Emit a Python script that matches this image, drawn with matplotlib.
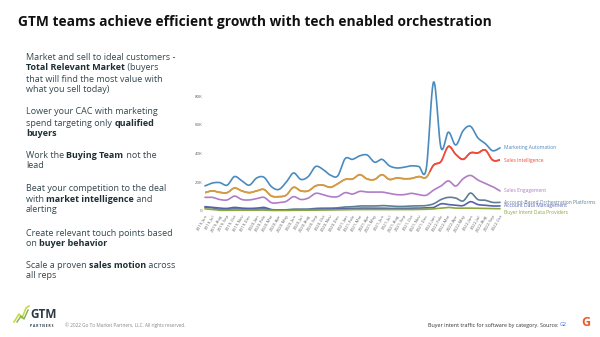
import numpy as np
import matplotlib
matplotlib.use("agg")
from matplotlib import pyplot as plt
from matplotlib.lines import Line2D
from matplotlib.collections import LineCollection

plt.rcParams['font.family'] = ['Open Sans', 'DejaVu Sans']

# monthly buyer intent traffic, 2019-Jun .. 2022-Oct (thousands)
month_names = ['Jan', 'Feb', 'Mar', 'Apr', 'May', 'Jun', 'Jul', 'Aug', 'Sep', 'Oct', 'Nov', 'Dec']
dates = ['2019-' + m for m in month_names[5:]] + ['2020-' + m for m in month_names] + \
        ['2021-' + m for m in month_names] + ['2022-' + m for m in month_names[:10]]

marketing_automation = [17.5, 19.5, 19.8, 18, 24, 21, 18, 23, 23.5, 17, 15, 20, 26.5, 22, 24, 31, 29, 25,
                        24.5, 36.5, 36, 38.5, 39, 34, 36, 31.5, 30, 30.5, 31.5, 31, 29.5, 90, 44, 55, 46,
                        56, 59, 51, 47, 42, 44]
sales_intelligence = [12.8, 14, 13, 12.8, 16, 14, 12.8, 14, 15, 10.5, 10, 11, 16.5, 14, 14, 17.5, 18, 16.5,
                      19, 22, 22.3, 25.3, 22.3, 22, 25.3, 22, 23, 22.5, 22.7, 24, 23.5, 32, 34.5, 45, 39.5,
                      36, 40.5, 40.5, 42.5, 35.5, 35.5]
sales_engagement = [9.5, 9.5, 8, 7.7, 10.4, 8, 7.7, 8.6, 9.5, 5.8, 5.8, 6.7, 10, 8, 9, 12.3, 11.4, 10, 10,
                    12.8, 11.8, 13.7, 13.2, 13.2, 13.2, 12.3, 11.4, 11.4, 12.3, 11.4, 11, 14.6, 17.4, 21,
                    17.4, 22.5, 24.8, 21.6, 19.3, 17, 14]
abo_platforms = [2.5, 2.2, 1.0, 1.0, 1.5, 1.2, 1.0, 1.2, 1.5, 0.8, 0.6, 0.8, 1.2, 1.2, 1.3, 1.8, 2.0, 2.0,
                 2.2, 2.8, 3.0, 3.5, 3.5, 3.5, 3.8, 3.5, 3.2, 3.2, 3.5, 3.5, 3.8, 5.0, 8.0, 9.5, 9.0, 7.0,
                 12.5, 8.0, 7.5, 6.0, 6.0]
account_data = [3.0, 2.5, 2.0, 1.8, 2.5, 2.0, 1.8, 2.0, 2.5, 1.0, 0.8, 0.8, 1.0, 1.0, 1.0, 1.2, 1.2, 1.3,
                1.5, 1.6, 1.8, 2.0, 2.0, 2.0, 2.0, 1.8, 1.8, 1.8, 2.0, 2.0, 2.2, 2.5, 5.0, 4.5, 4.0, 3.8,
                6.5, 4.5, 4.0, 3.5, 3.5]
intent_providers = [1.5, 1.0, 0.5, 0.5, 0.6, 0.6, 0.5, 0.6, 0.6, 0.4, 0.4, 0.4, 0.5, 0.5, 0.6, 0.6, 0.7,
                    0.7, 0.8, 0.9, 1.0, 1.0, 1.0, 1.0, 1.0, 1.0, 1.0, 1.0, 1.0, 1.1, 1.2, 1.5, 2.0, 2.5,
                    2.0, 2.0, 2.0, 1.8, 1.8, 1.6, 1.6]

series = [
    ('Marketing Automation', marketing_automation, '#4a8bbf', 0),
    ('Sales Intelligence', sales_intelligence, '#ef4b3c', 0),
    ('Sales Engagement', sales_engagement, '#b07cc6', 0),
    ('Account-Based Orchestration Platforms', abo_platforms, '#5c7f96', 0),
    ('Account Data Management', account_data, '#5561ad', 0),
    ('Buyer Intent Data Providers', intent_providers, '#8aa83e', -3),
]

bullets = [
    [[('Market and sell to ideal customers -', False)],
     [('Total Relevant Market', True), (' (buyers', False)],
     [('that will find the most value with', False)],
     [('what you sell today)', False)]],
    [[('Lower your CAC with marketing', False)],
     [('spend targeting only ', False), ('qualified', True)],
     [('buyers', True)]],
    [[('Work the ', False), ('Buying Team', True), (' not the', False)],
     [('lead', False)]],
    [[('Beat your competition to the deal', False)],
     [('with ', False), ('market intelligence', True), (' and', False)],
     [('alerting', False)]],
    [[('Create relevant touch points based', False)],
     [('on ', False), ('buyer behavior', True)]],
    [[('Scale a proven ', False), ('sales motion', True), (' across', False)],
     [('all reps', False)]],
]


def smooth(x, y, n=12):
    # catmull-rom curve through the points, only for drawing
    x = np.asarray(x, float)
    y = np.asarray(y, float)
    px = np.r_[x[0], x, x[-1]]
    py = np.r_[y[0], y, y[-1]]
    t = np.linspace(0, 1, n, endpoint=False)
    ox, oy = [], []
    for i in range(1, len(px) - 2):
        for arr, out in ((px, ox), (py, oy)):
            p0, p1, p2, p3 = arr[i - 1], arr[i], arr[i + 1], arr[i + 2]
            out.extend(0.5 * (2 * p1 + (-p0 + p2) * t + (2 * p0 - 5 * p1 + 4 * p2 - p3) * t ** 2 +
                              (-p0 + 3 * p1 - 3 * p2 + p3) * t ** 3))
    ox.append(x[-1])
    oy.append(y[-1])
    return np.array(ox), np.array(oy)


fig = plt.figure(figsize=(6, 3.37), dpi=100, facecolor='white')
W, H = 600, 337

fig.text(18 / W, 1 - 22 / H, 'GTM teams achieve efficient growth with tech enabled orchestration',
         fontsize=9.9, fontweight='bold', color='#111111', va='center', ha='left')

# left bullet text with bold runs
renderer = fig.canvas.get_renderer()
para_y = [57, 112, 155, 188, 233, 265]
for para, y0 in zip(bullets, para_y):
    for k, line in enumerate(para):
        x = 26
        y = y0 + 11 * k
        for txt, bold in line:
            t = fig.text(x / W, 1 - y / H, txt, fontsize=6.5, va='center', ha='left',
                         fontweight='bold' if bold else 'normal',
                         color='#1e2f36' if bold else '#34474f')
            bb = t.get_window_extent(renderer=renderer)
            x += bb.width

ax = fig.add_axes([205 / W, 1 - 211 / H, 295 / W, 132 / H])
xs = np.arange(len(dates))
for name, vals, col, off in series:
    vals = np.array(vals) * 1000
    sx, sy = smooth(xs, vals)
    if name == 'Sales Intelligence':
        pts = np.column_stack([sx, sy]).reshape(-1, 1, 2)
        segs = np.concatenate([pts[:-1], pts[1:]], axis=1)
        cols = ['#d49a45' if x < 30.5 else col for x in sx[:-1]]
        ax.add_collection(LineCollection(segs, colors=cols, linewidth=1.2, capstyle='round'))
    else:
        ax.plot(sx, sy, color=col, linewidth=1.2, solid_capstyle='round', clip_on=False)
    ax.annotate(name, xy=(xs[-1], vals[-1]), xytext=(3, off), textcoords='offset points',
                fontsize=3.6, color=col, va='center', ha='left', annotation_clip=False)

ax.set_xlim(0, len(dates) - 1)
ax.set_ylim(0, 92000)
ax.set_yticks([0, 20000, 40000, 60000, 80000])
ax.set_yticklabels(['0', '20K', '40K', '60K', '80K'])
ax.set_xticks(xs)
ax.set_xticklabels(dates, rotation=60, ha='right', rotation_mode='anchor')
ax.tick_params(axis='both', length=0, labelsize=3.2, labelcolor='#666666', pad=2)
for s in ax.spines.values():
    s.set_visible(False)
ax.patch.set_alpha(0)

# footer: logo, copyright, source
fig.add_artist(Line2D(np.array([14, 19, 22, 26, 29]) / W, 1 - np.array([322, 314, 318, 308, 306]) / H,
                      color='#c8d94a', linewidth=1.2))
fig.add_artist(Line2D(np.array([17, 21, 24, 28]) / W, 1 - np.array([322, 316, 319, 310]) / H,
                      color='#7fb04a', linewidth=1.0))
fig.text(30 / W, 1 - 314 / H, 'GTM', fontsize=8.5, fontweight='bold', color='#2a3a44', va='center')
fig.text(30 / W, 1 - 326 / H, 'P A R T N E R S', fontsize=2.4, fontweight='bold', color='#2a3a44',
         va='center')
fig.text(65 / W, 1 - 325 / H, '\u00a9 2022 Go To Market Partners, LLC. All rights reserved.',
         fontsize=3.4, color='#888888', va='center')
cap = fig.text(428 / W, 1 - 325 / H, 'Buyer intent traffic for software by category. Source: ',
               fontsize=3.9, color='#333333', va='center')
cx = 428 + cap.get_window_extent(renderer=renderer).width
fig.text(cx / W, 1 - 325 / H, 'G2', fontsize=3.9, color='#3b6fd6', va='center')
fig.text(586 / W, 1 - 322 / H, 'G', fontsize=9, fontweight='bold', color='#ef5a2b', va='center',
         ha='center')

fig.savefig('out.png', dpi=100, facecolor='white')
